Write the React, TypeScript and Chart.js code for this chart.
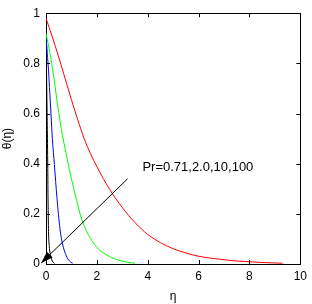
import React, { useEffect, useRef } from "react";
import { Chart, registerables } from "chart.js";

Chart.register(...registerables);

// Axis ticks
const xTickValues = [0, 2, 4, 6, 8, 10];
const yTickValues = [0, 0.2, 0.4, 0.6, 0.8, 1];

// Pr = 0.71 (red)
const etaRed = [0, 0.25, 0.5, 0.75, 1, 1.25, 1.5, 1.75, 2, 2.5, 3, 3.5, 4, 4.5, 5, 5.5, 6, 6.5, 7, 7.5, 8, 8.5, 9, 9.3];
const thetaRed = [0.98, 0.905, 0.825, 0.74, 0.655, 0.575, 0.5, 0.44, 0.388, 0.298, 0.225, 0.165, 0.118, 0.085, 0.061, 0.044, 0.031, 0.023, 0.017, 0.012, 0.009, 0.006, 0.004, 0.003];

// Pr = 2.0 (green)
const etaGreen = [0, 0.1, 0.2, 0.3, 0.4, 0.5, 0.6, 0.7, 0.8, 0.9, 1.0, 1.2, 1.4, 1.6, 1.8, 2.0, 2.2, 2.5, 2.8, 3.1, 3.5];
const thetaGreen = [0.92, 0.87, 0.815, 0.75, 0.675, 0.605, 0.54, 0.485, 0.435, 0.385, 0.34, 0.255, 0.18, 0.13, 0.093, 0.066, 0.048, 0.03, 0.017, 0.009, 0.003];

// Pr = 10 (blue)
const etaBlue = [0, 0.05, 0.1, 0.15, 0.2, 0.25, 0.33, 0.43, 0.55, 0.65, 0.8, 0.92, 1.05];
const thetaBlue = [0.91, 0.84, 0.77, 0.68, 0.59, 0.5, 0.396, 0.265, 0.14, 0.08, 0.032, 0.012, 0.003];

// Pr = 100 (black)
const etaBlack = [0, 0.02, 0.04, 0.06, 0.07, 0.08, 0.1, 0.13, 0.18, 0.25, 0.33];
const thetaBlack = [0.9, 0.78, 0.62, 0.48, 0.38, 0.26, 0.13, 0.07, 0.035, 0.012, 0.003];

const seriesColors = ["#ff0000", "#00ff00", "#0000ff", "#000000"];
const seriesLabels = ["Pr=0.71", "Pr=2.0", "Pr=10", "Pr=100"];

// Annotation
const annotationText = "Pr=0.71,2.0,10,100";
const annotationAt = [3.79, 0.385];
const arrowFrom = [3.21, 0.34];
const arrowTo = [-0.19, 0.004];

const FONT = "'Liberation Sans', Arial, sans-serif";

const toPoints = (xs: number[], ys: number[]) => xs.map((x, i) => ({ x, y: ys[i] }));

const framePlugin = {
  id: "framePlugin",
  afterDatasetsDraw(chart: any) {
    const { ctx, chartArea, scales } = chart;
    const { left, right, top, bottom } = chartArea;
    const xs = scales.x;
    const ys = scales.y;
    ctx.save();
    ctx.strokeStyle = "#000";
    ctx.lineWidth = 1;
    // top and right frame
    ctx.beginPath();
    ctx.moveTo(left, Math.round(top) + 0.5);
    ctx.lineTo(right + 0.5, Math.round(top) + 0.5);
    ctx.moveTo(Math.round(right) + 0.5, top);
    ctx.lineTo(Math.round(right) + 0.5, bottom);
    ctx.stroke();
    // inward ticks
    const tl = 4;
    ctx.beginPath();
    xTickValues.forEach((v) => {
      const px = Math.round(xs.getPixelForValue(v)) + 0.5;
      ctx.moveTo(px, bottom);
      ctx.lineTo(px, bottom - tl);
      ctx.moveTo(px, top);
      ctx.lineTo(px, top + tl);
    });
    yTickValues.forEach((v) => {
      const py = Math.round(ys.getPixelForValue(v)) + 0.5;
      ctx.moveTo(left, py);
      ctx.lineTo(left + tl, py);
      ctx.moveTo(right, py);
      ctx.lineTo(right - tl, py);
    });
    ctx.stroke();

    // arrow
    const x1 = xs.getPixelForValue(arrowFrom[0]);
    const y1 = ys.getPixelForValue(arrowFrom[1]);
    const x2 = xs.getPixelForValue(arrowTo[0]);
    const y2 = ys.getPixelForValue(arrowTo[1]);
    ctx.beginPath();
    ctx.moveTo(x1, y1);
    ctx.lineTo(x2, y2);
    ctx.stroke();
    const ang = Math.atan2(y2 - y1, x2 - x1);
    const len = 12;
    const hw = 4;
    const bx = x2 - len * Math.cos(ang);
    const by = y2 - len * Math.sin(ang);
    ctx.fillStyle = "#000";
    ctx.beginPath();
    ctx.moveTo(x2, y2);
    ctx.lineTo(bx + hw * Math.sin(ang), by - hw * Math.cos(ang));
    ctx.lineTo(bx - hw * Math.sin(ang), by + hw * Math.cos(ang));
    ctx.closePath();
    ctx.fill();

    // annotation text
    ctx.font = `13px ${FONT}`;
    ctx.textAlign = "left";
    ctx.textBaseline = "middle";
    ctx.fillStyle = "#000";
    ctx.fillText(annotationText, xs.getPixelForValue(annotationAt[0]), ys.getPixelForValue(annotationAt[1]));
    ctx.restore();
  },
};

export default function App() {
  const canvasRef = useRef<HTMLCanvasElement | null>(null);

  useEffect(() => {
    const canvas = canvasRef.current;
    if (!canvas) return;
    const series = [
      toPoints(etaRed, thetaRed),
      toPoints(etaGreen, thetaGreen),
      toPoints(etaBlue, thetaBlue),
      toPoints(etaBlack, thetaBlack),
    ];
    const chart = new Chart(canvas, {
      type: "line",
      data: {
        datasets: series.map((d, i) => ({
          label: seriesLabels[i],
          data: d,
          borderColor: seriesColors[i],
          backgroundColor: seriesColors[i],
          borderWidth: 1,
          pointRadius: 0,
          fill: false,
          cubicInterpolationMode: "monotone" as const,
        })),
      },
      options: {
        responsive: false,
        animation: false,
        devicePixelRatio: 1,
        layout: { padding: { left: 0, right: 8, top: 9, bottom: 0 } },
        plugins: {
          legend: { display: false },
          tooltip: { enabled: false },
        },
        scales: {
          x: {
            type: "linear",
            min: 0,
            max: 10,
            afterFit: (s: any) => {
              s.height = 40;
            },
            afterBuildTicks: (s: any) => {
              s.ticks = xTickValues.map((v) => ({ value: v }));
            },
            ticks: {
              color: "#000",
              font: { family: FONT, size: 12 },
              padding: 5,
              maxRotation: 0,
              callback: (v: any) => String(v),
            },
            grid: { display: false, drawTicks: false },
            border: { display: true, color: "#000", width: 1 },
            title: {
              display: true,
              text: "η",
              color: "#000",
              font: { family: FONT, size: 12 },
              padding: 0,
            },
          },
          y: {
            type: "linear",
            min: 0,
            max: 1,
            afterFit: (s: any) => {
              s.width = 46;
            },
            afterBuildTicks: (s: any) => {
              s.ticks = yTickValues.map((v) => ({ value: v }));
            },
            ticks: {
              color: "#000",
              font: { family: FONT, size: 12 },
              padding: 6,
              callback: (v: any) => String(v),
            },
            grid: { display: false, drawTicks: false },
            border: { display: true, color: "#000", width: 1 },
            title: {
              display: true,
              text: "θ(η)",
              color: "#000",
              font: { family: FONT, size: 12 },
              padding: 0,
            },
          },
        },
      },
      plugins: [framePlugin],
    });
    return () => chart.destroy();
  }, []);

  return (
    <div style={{ position: "absolute", left: 0, top: 0, width: 312, height: 304, background: "#fff" }}>
      <canvas ref={canvasRef} width={312} height={304} style={{ display: "block" }} />
    </div>
  );
}
